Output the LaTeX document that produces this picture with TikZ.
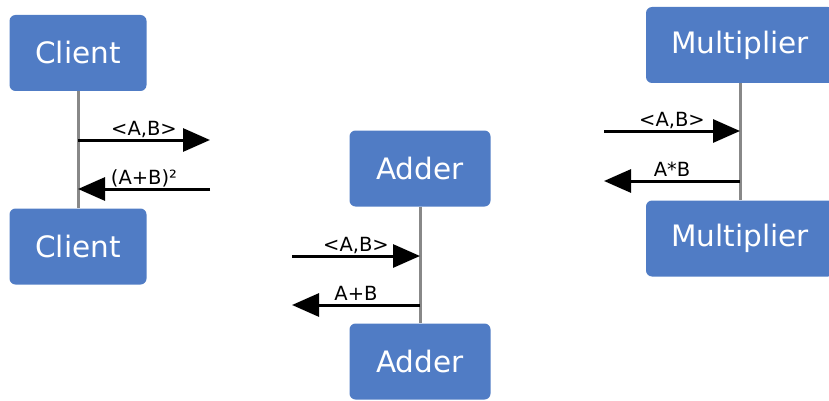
\documentclass[tikz,border=0pt]{standalone}
\usepackage{fontspec}
\setmainfont{DejaVu Sans}
\usetikzlibrary{arrows.meta}

\definecolor{boxblue}{RGB}{80,124,197}
\definecolor{lifegray}{RGB}{136,136,136}

\tikzset{
    actor/.style={fill=boxblue, rounded corners=6pt, text=white,
        minimum height=76pt, font=\fontsize{29.5}{34}\selectfont},
    lifeline/.style={draw=lifegray, line width=3pt},
    msg/.style={line width=3pt, -{Triangle[length=27pt,width=23pt]}},
    msglabel/.style={anchor=base, inner sep=0pt, yshift=4.5pt,
        font=\fontsize{19.5}{22}\selectfont}
}

\begin{document}
\begin{tikzpicture}[x=1pt, y=-1pt]
    \useasboundingbox (0,0) rectangle (829,401);

    % lifeline boxes
    \node[actor, minimum width=137pt] (client1) at (78,53) {Client};
    \node[actor, minimum width=137pt] (client2) at (78,246.5) {Client};
    \node[actor, minimum width=141pt] (adder1) at (420,168.5) {Adder};
    \node[actor, minimum width=141pt] (adder2) at (420,361.5) {Adder};
    \node[actor, minimum width=188pt] (mult1) at (740,45) {Multiplier};
    \node[actor, minimum width=188pt] (mult2) at (740,238.5) {Multiplier};

    \draw[lifeline] (client1) -- (client2);
    \draw[lifeline] (adder1) -- (adder2);
    \draw[lifeline] (mult1) -- (mult2);

    % messages
    \coordinate (cout) at (210,140);
    \coordinate (cin) at (210,189);
    \draw[msg] (client1 |- cout) -- (cout)
        node[msglabel, midway] (coutlabel) {<A,B>};
    \draw[msg] (cin) -- (client1 |- cin)
        node[msglabel, midway] (cinlabel) {(A+B)²};

    \coordinate (ain) at (292,256);
    \coordinate (aout) at (292,305);
    \draw[msg] (ain) -- (adder1 |- ain)
        node[msglabel, midway] (ainlabel) {<A,B>};
    \draw[msg] (adder1 |- aout) -- (aout)
        node[msglabel, midway] (aoutlabel) {A+B};

    \coordinate (min) at (604,131);
    \coordinate (mout) at (604,181);
    \draw[msg] (min) -- (mult1 |- min)
        node[msglabel, midway] (minlabel) {<A,B>};
    \draw[msg] (mult1 |- mout) -- (mout)
        node[msglabel, midway] (moutlabel) {A*B};
\end{tikzpicture}
\end{document}
